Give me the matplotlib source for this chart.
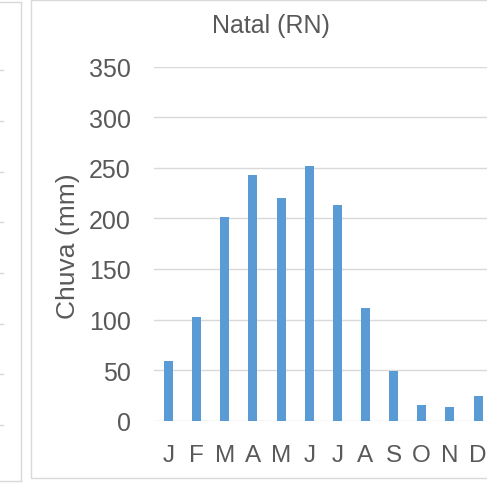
import matplotlib
matplotlib.use("Agg")
import matplotlib.pyplot as plt
from matplotlib.patches import Rectangle
from matplotlib.lines import Line2D

# chuva mensal em Natal (RN), mm
meses = ["J", "F", "M", "A", "M", "J", "J", "A", "S", "O", "N", "D"]
chuva = [59, 103, 201, 243, 220, 252, 213, 111, 49, 16, 14, 24]
y_ticks = [0, 50, 100, 150, 200, 250, 300, 350]

W, H = 487, 485
cor_barra = "#5B9BD5"
cor_grade = "#D9D9D9"
cor_texto = "#595959"

plt.rcParams["font.family"] = ["Liberation Sans", "DejaVu Sans"]

fig = plt.figure(figsize=(W / 100, H / 100), dpi=100)

def fx(px):
    return px / W

def fy(py):
    return 1 - py / H

# moldura do grafico principal (corta na borda direita)
fig.add_artist(Rectangle((fx(30.7), fy(479)), fx(470), fy(0.5) - fy(479),
                         transform=fig.transFigure, fill=False,
                         edgecolor=cor_grade, lw=1.0))
# pedaco do grafico vizinho a esquerda
fig.add_artist(Line2D([fx(20.7), fx(20.7)], [fy(3), fy(481.7)],
                      transform=fig.transFigure, color=cor_grade, lw=1.0))
fig.add_artist(Line2D([0, fx(20.7)], [fy(481.7), fy(481.7)],
                      transform=fig.transFigure, color=cor_grade, lw=1.0))
fig.add_artist(Line2D([0, fx(20.7)], [fy(3), fy(3)],
                      transform=fig.transFigure, color=cor_grade, lw=1.0))
for i in range(8):
    yy = fy(426 - i * 50.7)
    fig.add_artist(Line2D([0, fx(2.7)], [yy, yy],
                          transform=fig.transFigure, color=cor_grade, lw=1.0))

left = 154.4 / W
right = 492.1 / W
bottom = fy(421.7)
top = fy(67.7)
ax = fig.add_axes([left, bottom, right - left, top - bottom])

x = list(range(len(meses)))
ax.bar(x, chuva, width=0.32, color=cor_barra, zorder=3)

ax.set_xlim(-0.5, 11.5)
ax.set_ylim(0, 350)
ax.set_yticks(y_ticks)
ax.set_xticks(x)
ax.set_xticklabels(meses)
ax.grid(axis="y", color=cor_grade, lw=1.0, zorder=0)
ax.set_axisbelow(True)
for s in ax.spines.values():
    s.set_visible(False)
ax.tick_params(axis="y", length=0, pad=17, labelsize=18, labelcolor=cor_texto)
ax.tick_params(axis="x", length=0, pad=17, labelsize=17.5, labelcolor=cor_texto)
ax.set_facecolor("none")

fig.text(fx(270.5), fy(33), "Natal (RN)", ha="center", va="baseline",
         fontsize=18, color=cor_texto)
fig.text(fx(68), fy(246), "Chuva (mm)", ha="center", va="center",
         rotation=90, fontsize=19, color=cor_texto)

fig.savefig("out.png", dpi=100)
